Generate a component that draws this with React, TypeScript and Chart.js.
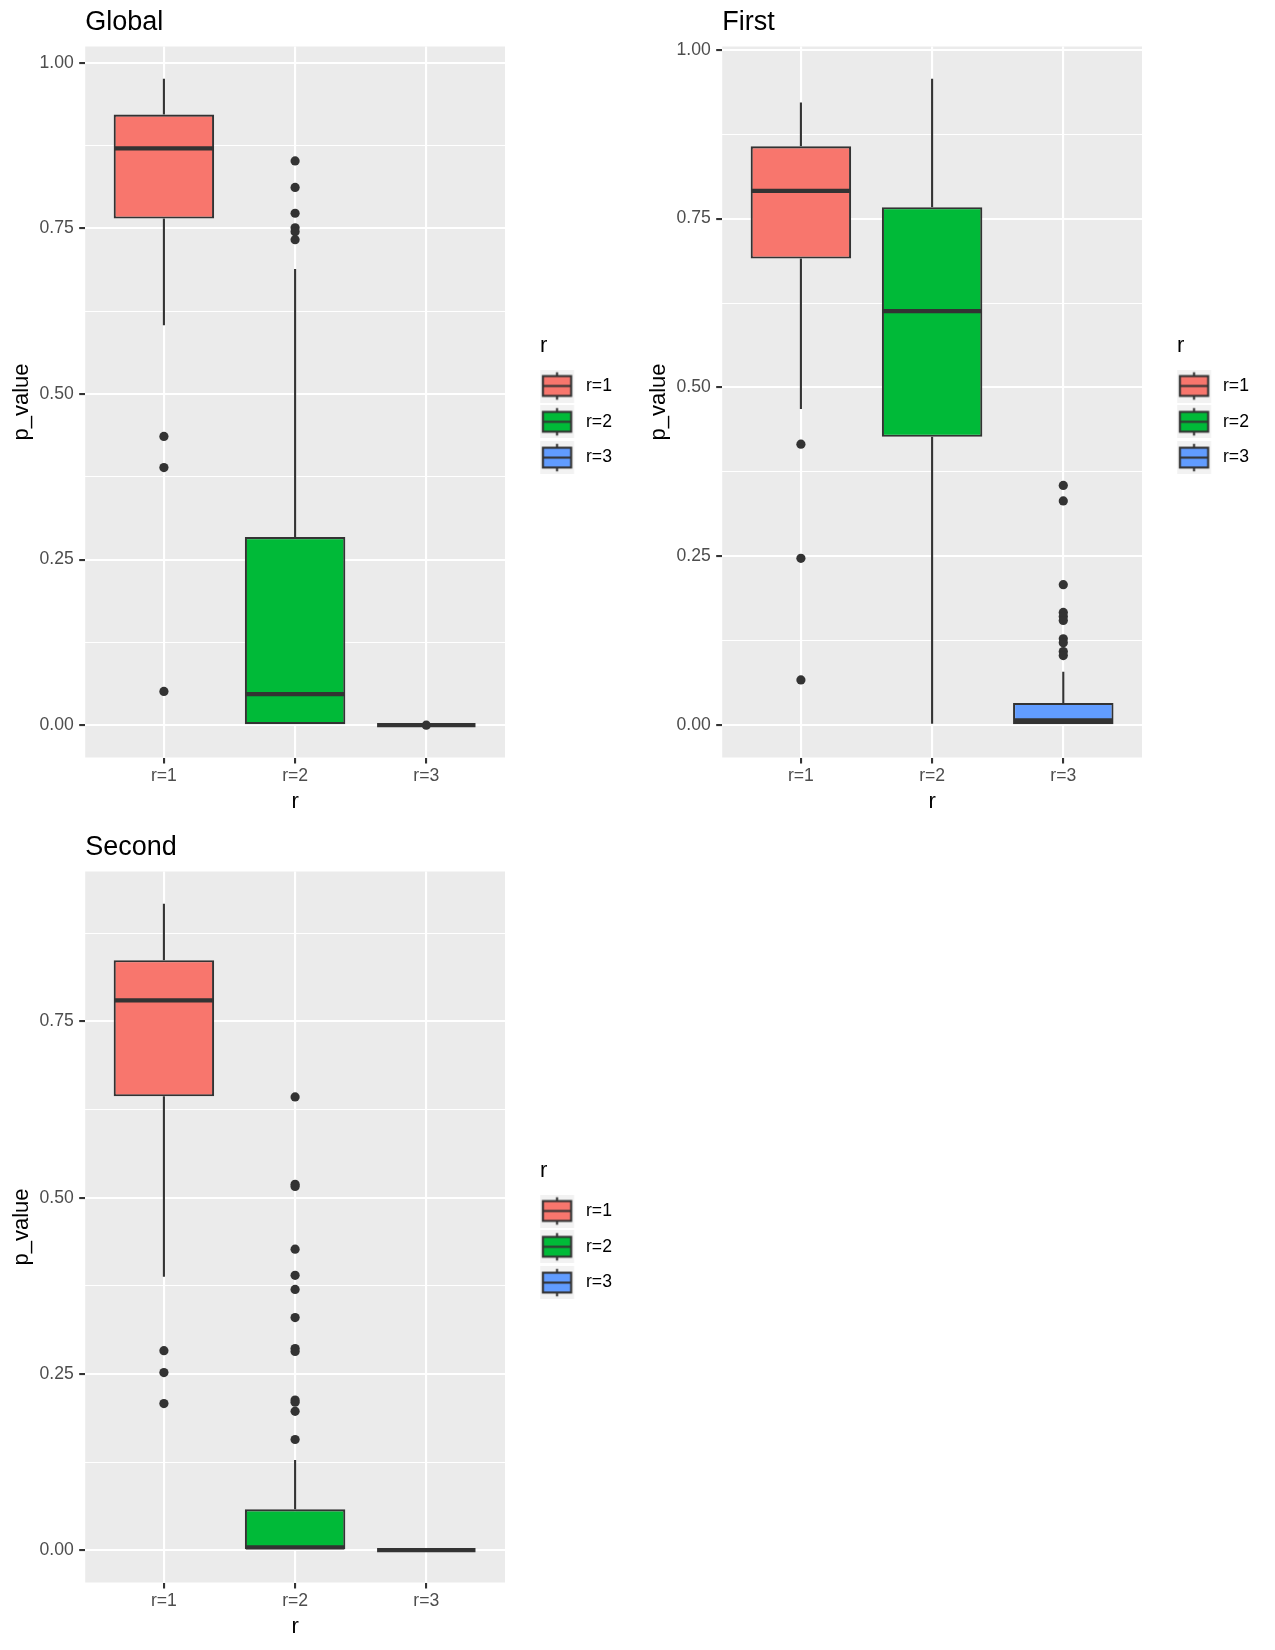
import React, { useEffect, useRef } from 'react';
import { Chart, registerables } from 'chart.js';

Chart.register(...registerables);

const FONT = "'Liberation Sans', Arial, Helvetica, sans-serif";
Chart.defaults.font.family = FONT;

// ---------- data ----------
const categories = ['r=1', 'r=2', 'r=3'];
const categoryPositions = [1, 2, 3];
const fillColors = ['#F8766D', '#00BA38', '#619CFF'];
const yMajorTicks = [0, 0.25, 0.5, 0.75, 1.0];
const yTickLabels = ['0.00', '0.25', '0.50', '0.75', '1.00'];
const yMinorTicks = [0.125, 0.375, 0.625, 0.875];
const panelTitles = ['Global', 'First', 'Second'];

// Global
const globalLower = [0.604, 0.0, 0.0];
const globalQ1 = [0.765, 0.0, 0.0];
const globalMedian = [0.871, 0.047, 0.0];
const globalQ3 = [0.922, 0.284, 0.0];
const globalUpper = [0.976, 0.689, 0.0];
const globalOutR1 = [0.436, 0.389, 0.051];
const globalOutR2 = [0.852, 0.812, 0.773, 0.751, 0.745, 0.733];
const globalOutR3 = [0.0];

// First
const firstLower = [0.468, 0.002, 0.0];
const firstQ1 = [0.691, 0.427, 0.0];
const firstMedian = [0.791, 0.613, 0.007];
const firstQ3 = [0.857, 0.767, 0.033];
const firstUpper = [0.922, 0.957, 0.079];
const firstOutR1 = [0.416, 0.247, 0.067];
const firstOutR2: number[] = [];
const firstOutR3 = [0.355, 0.332, 0.208, 0.167, 0.161, 0.155, 0.128, 0.122, 0.109, 0.103];

// Second
const secondLower = [0.388, 0.0, 0.0];
const secondQ1 = [0.644, 0.0, 0.0];
const secondMedian = [0.78, 0.004, 0.0];
const secondQ3 = [0.837, 0.058, 0.0];
const secondUpper = [0.917, 0.128, 0.0];
const secondOutR1 = [0.283, 0.252, 0.208];
const secondOutR2 = [0.643, 0.519, 0.516, 0.427, 0.39, 0.37, 0.33, 0.286, 0.282, 0.213, 0.21, 0.197, 0.157];
const secondOutR3: number[] = [];

type PanelData = {
  title: string;
  lower: number[];
  q1: number[];
  median: number[];
  q3: number[];
  upper: number[];
  outliers: number[][];
};

const panels: PanelData[] = [
  { title: panelTitles[0], lower: globalLower, q1: globalQ1, median: globalMedian, q3: globalQ3, upper: globalUpper, outliers: [globalOutR1, globalOutR2, globalOutR3] },
  { title: panelTitles[1], lower: firstLower, q1: firstQ1, median: firstMedian, q3: firstQ3, upper: firstUpper, outliers: [firstOutR1, firstOutR2, firstOutR3] },
  { title: panelTitles[2], lower: secondLower, q1: secondQ1, median: secondMedian, q3: secondQ3, upper: secondUpper, outliers: [secondOutR1, secondOutR2, secondOutR3] },
];

// ---------- styling / layout ----------
const CANVAS_W = 638;
const CANVAS_H = 825;
const Y_AXIS_WIDTH = 85.2;
const X_AXIS_HEIGHT = 67.5;
const CHART_RIGHT = 505;
const LEGEND_GAP = 35;
const LEGEND_WIDTH = 78;
const BOX_WIDTH = 0.75;
const LINE_W = 2.1;
const MEDIAN_W = 4.3;
const DARK = '#333333';

const KEY_W = 34;
const KEY_H = 33;
const POINT_STYLE_W = 19;
const GLYPH_W = 58;
const GLYPH_SHIFT = -10.7;
const GLYPH_X0 = GLYPH_W / 2 + GLYPH_SHIFT - KEY_W / 2;

function makeKeyGlyph(fill: string): HTMLCanvasElement {
  const c = document.createElement('canvas');
  c.width = GLYPH_W;
  c.height = KEY_H;
  const g = c.getContext('2d')!;
  g.fillStyle = '#F2F2F2';
  g.fillRect(GLYPH_X0, 0, KEY_W, KEY_H);
  const cx = GLYPH_X0 + KEY_W / 2;
  g.strokeStyle = DARK;
  g.lineWidth = LINE_W;
  g.beginPath();
  g.moveTo(cx, KEY_H * 0.08);
  g.lineTo(cx, KEY_H * 0.2);
  g.moveTo(cx, KEY_H * 0.8);
  g.lineTo(cx, KEY_H * 0.92);
  g.stroke();
  const rx = GLYPH_X0 + KEY_W * 0.085;
  const rw = KEY_W * 0.83;
  const ry = KEY_H * 0.2;
  const rh = KEY_H * 0.6;
  g.fillStyle = fill;
  g.fillRect(rx, ry, rw, rh);
  g.strokeRect(rx, ry, rw, rh);
  g.beginPath();
  g.moveTo(rx, KEY_H * 0.5);
  g.lineTo(rx + rw, KEY_H * 0.5);
  g.stroke();
  return c;
}

const panelBackground = {
  id: 'panelBackground',
  beforeDraw(chart: any) {
    const { ctx, chartArea: a } = chart;
    ctx.save();
    ctx.fillStyle = '#EBEBEB';
    ctx.fillRect(a.left, a.top, a.right - a.left, a.bottom - a.top);
    ctx.restore();
  },
};

function buildConfig(p: PanelData): any {
  const whiskerData: any[] = [];
  const medianData: any[] = [];
  const boxData: any[] = [];
  const outlierData: any[] = [];
  categoryPositions.forEach((x, i) => {
    whiskerData.push(
      { x, y: p.q3[i] }, { x, y: p.upper[i] }, { x, y: null },
      { x, y: p.q1[i] }, { x, y: p.lower[i] }, { x, y: null }
    );
    medianData.push(
      { x: x - BOX_WIDTH / 2, y: p.median[i] },
      { x: x + BOX_WIDTH / 2, y: p.median[i] },
      { x: x + 0.5, y: null }
    );
    boxData.push({ x, y: [p.q1[i], p.q3[i]] });
    p.outliers[i].forEach((v) => outlierData.push({ x, y: v }));
  });

  const allVals = [...p.lower, ...p.upper, ...p.outliers.flat()];
  const dMin = Math.min(...allVals);
  const dMax = Math.max(...allVals);
  const pad = (dMax - dMin) * 0.05;
  const yMin = dMin - pad;
  const yMax = dMax + pad;

  const glyphs = fillColors.map((c) => makeKeyGlyph(c));
  const isMajor = (v: number) => yMajorTicks.indexOf(v) >= 0;
  // bar border is drawn inside the bar, so widen by one line width to match centred strokes
  const barPct = BOX_WIDTH + LINE_W / ((CHART_RIGHT - Y_AXIS_WIDTH) / 3.2);

  return {
    type: 'bar',
    data: {
      datasets: [
        {
          type: 'scatter',
          label: 'outliers',
          data: outlierData,
          xAxisID: 'x',
          yAxisID: 'y',
          pointRadius: 4.6,
          pointBackgroundColor: DARK,
          pointBorderWidth: 0,
          order: 0,
        },
        {
          type: 'line',
          label: 'median',
          data: medianData,
          xAxisID: 'x',
          yAxisID: 'y',
          borderColor: DARK,
          borderWidth: MEDIAN_W,
          borderCapStyle: 'butt',
          pointRadius: 0,
          fill: false,
          spanGaps: false,
          order: 1,
        },
        {
          type: 'bar',
          label: 'box',
          data: boxData,
          xAxisID: 'x',
          yAxisID: 'y',
          backgroundColor: fillColors,
          borderColor: DARK,
          borderWidth: LINE_W,
          borderSkipped: false,
          categoryPercentage: 1,
          barPercentage: barPct,
          order: 2,
        },
        {
          type: 'line',
          label: 'whiskers',
          data: whiskerData,
          xAxisID: 'x',
          yAxisID: 'y',
          borderColor: DARK,
          borderWidth: LINE_W,
          pointRadius: 0,
          fill: false,
          spanGaps: false,
          order: 3,
        },
      ],
    },
    options: {
      animation: false,
      responsive: false,
      events: [],
      layout: { padding: { left: 0, top: 0, right: CANVAS_W - CHART_RIGHT - LEGEND_GAP - LEGEND_WIDTH, bottom: 0 } },
      scales: {
        x: {
          type: 'linear',
          min: 0.4,
          max: 3.6,
          offset: false,
          afterBuildTicks: (scale: any) => {
            scale.ticks = categoryPositions.map((v) => ({ value: v }));
          },
          afterFit: (scale: any) => {
            scale.height = X_AXIS_HEIGHT;
          },
          ticks: {
            callback: (v: number) => categories[categoryPositions.indexOf(v)] ?? '',
            color: '#4D4D4D',
            font: { size: 17.6 },
            padding: 2,
            maxRotation: 0,
            autoSkip: false,
          },
          grid: {
            offset: false,
            color: '#FFFFFF',
            lineWidth: LINE_W,
            tickColor: DARK,
            tickLength: 6,
            tickWidth: LINE_W,
          },
          border: { display: false },
          title: {
            display: true,
            text: 'r',
            color: '#000000',
            font: { size: 22 },
            padding: { top: 0, bottom: 10 },
          },
        },
        y: {
          type: 'linear',
          position: 'left',
          min: yMin,
          max: yMax,
          afterBuildTicks: (scale: any) => {
            scale.ticks = [...yMajorTicks, ...yMinorTicks]
              .filter((v) => v >= scale.min && v <= scale.max)
              .sort((a, b) => a - b)
              .map((v) => ({ value: v }));
          },
          afterFit: (scale: any) => {
            scale.width = Y_AXIS_WIDTH;
          },
          ticks: {
            callback: (v: number) => {
              const k = yMajorTicks.indexOf(v);
              return k >= 0 ? yTickLabels[k] : '';
            },
            color: '#4D4D4D',
            font: { size: 17.6 },
            padding: 5.5,
            autoSkip: false,
          },
          grid: {
            color: '#FFFFFF',
            lineWidth: (c: any) => (c.tick && isMajor(c.tick.value) ? LINE_W : 1.05),
            tickColor: (c: any) => (c.tick && isMajor(c.tick.value) ? DARK : 'rgba(0,0,0,0)'),
            tickLength: 6,
            tickWidth: LINE_W,
          },
          border: { display: false },
          title: {
            display: true,
            text: 'p_value',
            color: '#000000',
            font: { size: 22 },
            padding: { top: 9.2, bottom: 0 },
          },
        },
        legendGap: {
          type: 'linear',
          position: 'right',
          display: true,
          afterFit: (scale: any) => {
            scale.width = LEGEND_GAP;
          },
          grid: { display: false, drawTicks: false },
          ticks: { display: false },
          border: { display: false },
          title: { display: false },
        },
      },
      plugins: {
        tooltip: { enabled: false },
        title: {
          display: true,
          text: p.title,
          align: 'start',
          fullSize: false,
          color: '#000000',
          font: { size: 27, weight: 'normal', lineHeight: '31.7px' },
          padding: { top: 6.7, bottom: 8.1 },
        },
        legend: {
          display: true,
          position: 'right',
          align: 'center',
          fullSize: false,
          maxWidth: LEGEND_WIDTH,
          title: {
            display: true,
            text: 'r',
            position: 'start',
            color: '#000000',
            font: { size: 22, lineHeight: '24.4px' },
            padding: { top: 15.2, bottom: 0 },
          },
          labels: {
            usePointStyle: true,
            pointStyleWidth: POINT_STYLE_W,
            padding: 18.2,
            color: '#000000',
            font: { size: 17.6 },
            generateLabels: () =>
              categories.map((c, i) => ({
                text: c,
                pointStyle: glyphs[i],
                fillStyle: fillColors[i],
                strokeStyle: DARK,
                lineWidth: 0,
                hidden: false,
                datasetIndex: 2,
                index: i,
                fontColor: '#000000',
              })),
          },
        },
      },
    },
    plugins: [panelBackground],
  };
}

function Panel({ data, left, top }: { data: PanelData; left: number; top: number }) {
  const ref = useRef<HTMLCanvasElement | null>(null);
  useEffect(() => {
    if (!ref.current) return;
    const chart = new Chart(ref.current, buildConfig(data));
    return () => chart.destroy();
  }, [data]);
  return (
    <canvas
      ref={ref}
      width={CANVAS_W}
      height={CANVAS_H}
      style={{ position: 'absolute', left, top, width: CANVAS_W, height: CANVAS_H, display: 'block' }}
    />
  );
}

export default function App() {
  return (
    <div style={{ position: 'absolute', left: 0, top: 0, width: 1275, height: 1650, background: '#FFFFFF' }}>
      <Panel data={panels[0]} left={0} top={0} />
      <Panel data={panels[1]} left={637} top={0} />
      <Panel data={panels[2]} left={0} top={825} />
    </div>
  );
}
